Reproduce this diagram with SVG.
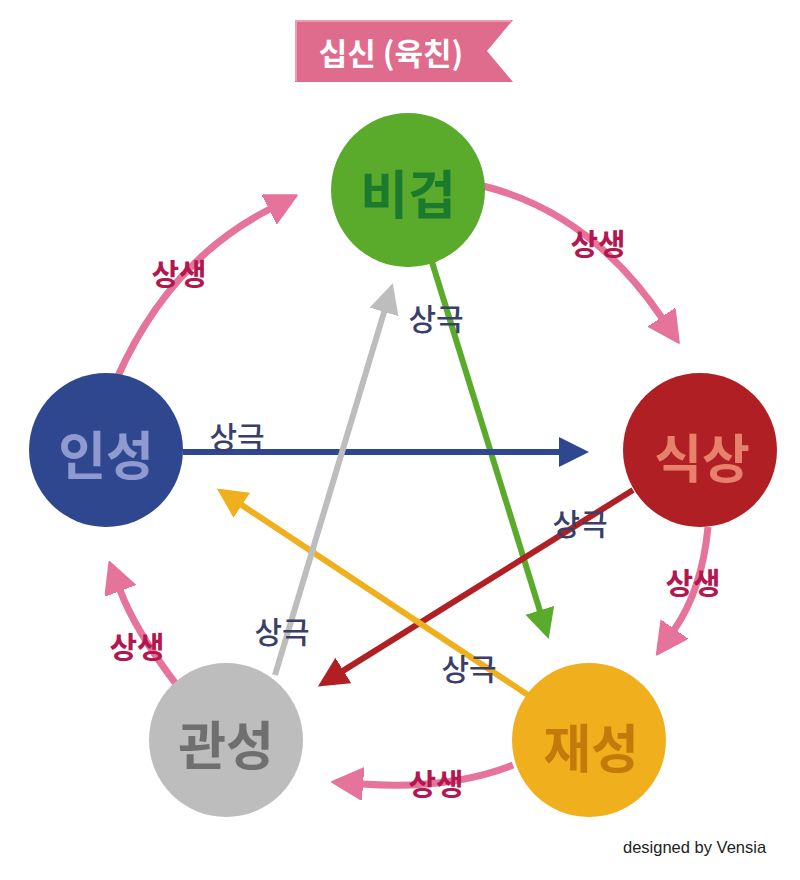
<svg xmlns="http://www.w3.org/2000/svg" width="800" height="880" viewBox="0 0 800 880">
<style>
  .ko { font-family: "Noto Sans CJK KR", "Noto Sans", sans-serif; }
  .node-label { font-size: 52px; font-weight: 700; text-anchor: middle; dominant-baseline: central; }
  .sang { font-size: 30px; font-weight: 700; fill: #b3174f; text-anchor: middle; dominant-baseline: central; }
  .geuk { font-size: 30px; font-weight: 500; fill: #3a3f6a; text-anchor: middle; dominant-baseline: central; }
  .arc { fill: none; stroke: #e5739a; stroke-width: 7; }
  .line { fill: none; stroke-width: 6; }
</style>
<defs>
  <marker id="mPink" markerUnits="userSpaceOnUse" markerWidth="34" markerHeight="34" refX="1" refY="16" orient="auto"><path d="M0,0 L31,16 L0,32 z" fill="#e5739a" stroke="#e5739a" stroke-width="2" stroke-linejoin="round"/></marker>
  <marker id="mGreen" markerUnits="userSpaceOnUse" markerWidth="32" markerHeight="32" refX="1" refY="15" orient="auto"><path d="M0,0 L30,15 L0,30 z" fill="#5aaa2b"/></marker>
  <marker id="mNavy" markerUnits="userSpaceOnUse" markerWidth="32" markerHeight="32" refX="1" refY="15" orient="auto"><path d="M0,0 L30,15 L0,30 z" fill="#2f478f"/></marker>
  <marker id="mRed" markerUnits="userSpaceOnUse" markerWidth="32" markerHeight="32" refX="1" refY="15" orient="auto"><path d="M0,0 L30,15 L0,30 z" fill="#b01f24"/></marker>
  <marker id="mYellow" markerUnits="userSpaceOnUse" markerWidth="32" markerHeight="32" refX="1" refY="15" orient="auto"><path d="M0,0 L30,15 L0,30 z" fill="#f0b01e"/></marker>
  <marker id="mGray" markerUnits="userSpaceOnUse" markerWidth="32" markerHeight="32" refX="1" refY="15" orient="auto"><path d="M0,0 L30,15 L0,30 z" fill="#bdbdbd"/></marker>
</defs>
<rect width="800" height="880" fill="#ffffff"/>

<g id="title">
  <polygon points="295,20 513,20 487,51 513,82 295,82" fill="#df6c8c"/>
  <polyline points="296,81 296,21 511,21" fill="none" stroke="#ef9bb2" stroke-width="2"/>
  <text x="391" y="51" class="ko" font-size="31" font-weight="700" fill="#ffffff" text-anchor="middle" dominant-baseline="central">십신 (육친)</text>
</g>

<g id="connectors">
  <path class="arc" d="M483,186 Q590,212 662,318" marker-end="url(#mPink)"/>
  <path class="arc" d="M708,527 Q702,590 674,630" marker-end="url(#mPink)"/>
  <path class="arc" d="M513,765 Q450,790 362,784" marker-end="url(#mPink)"/>
  <path class="arc" d="M176,684 Q135,630 120,590" marker-end="url(#mPink)"/>
  <path class="arc" d="M118,376 Q170,260 270,209" marker-end="url(#mPink)"/>

  <line class="line" x1="432" y1="262" x2="540.1" y2="611.3" stroke="#5aaa2b" marker-end="url(#mGreen)"/>
  <line class="line" x1="183" y1="452" x2="560" y2="452" stroke="#2f478f" marker-end="url(#mNavy)"/>
  <line class="line" x1="633" y1="490" x2="342.5" y2="671.1" stroke="#b01f24" marker-end="url(#mRed)"/>
  <line class="line" x1="528" y1="695" x2="241" y2="504.6" stroke="#f0b01e" marker-end="url(#mYellow)"/>
  <line class="line" x1="275" y1="675" x2="384.4" y2="311" stroke="#bdbdbd" marker-end="url(#mGray)"/>

  <text class="ko sang" x="598" y="242">상생</text>
  <text class="ko sang" x="693" y="581">상생</text>
  <text class="ko sang" x="436" y="782">상생</text>
  <text class="ko sang" x="137" y="645">상생</text>
  <text class="ko sang" x="179" y="272">상생</text>

  <text class="ko geuk" x="436" y="317">상극</text>
  <text class="ko geuk" x="237" y="435">상극</text>
  <text class="ko geuk" x="580" y="522">상극</text>
  <text class="ko geuk" x="469" y="667">상극</text>
  <text class="ko geuk" x="282" y="630">상극</text>
</g>

<g id="node-bigeop">
  <circle cx="408" cy="190" r="77" fill="#5aaa2b"/>
  <text class="ko node-label" x="408" y="191" fill="#1b7a2e">비겁</text>
</g>
<g id="node-siksang">
  <circle cx="700" cy="450" r="77" fill="#b01f24"/>
  <text class="ko node-label" x="702" y="455" fill="#e8816b">식상</text>
</g>
<g id="node-inseong">
  <circle cx="106" cy="450" r="77" fill="#2f478f"/>
  <text class="ko node-label" x="106" y="452" fill="#8e9ad0">인성</text>
</g>
<g id="node-gwanseong">
  <circle cx="226" cy="740" r="77" fill="#bdbdbd"/>
  <text class="ko node-label" x="226" y="742" fill="#6f6f6f">관성</text>
</g>
<g id="node-jaeseong">
  <circle cx="589" cy="740" r="77" fill="#f0b01e"/>
  <text class="ko node-label" x="591" y="745" fill="#c47a0b">재성</text>
</g>

<text x="623" y="853" font-family="Liberation Sans, Arial, sans-serif" font-size="16.5" fill="#222222">designed by Vensia</text>
</svg>
